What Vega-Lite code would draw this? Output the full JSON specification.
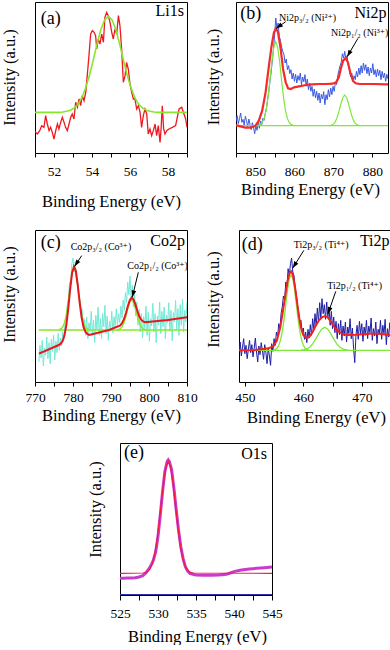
{
"$schema":"https://vega.github.io/schema/vega-lite/v6.json",
"background":"white",
"padding":{"left":0,"top":1,"right":0,"bottom":0},
"config":{
 "view":{"stroke":"black","strokeWidth":1},
 "axis":{"grid":false,"domain":false,"labelFont":"Liberation Serif, DejaVu Serif, serif","labelFontSize":13.5,"labelColor":"black","titleFont":"Liberation Serif, DejaVu Serif, serif","titleFontSize":16.5,"titleFontWeight":"normal","titleColor":"black","tickColor":"black","labelOverlap":false,"labelFlush":false,"minExtent":0},
 "text":{"font":"Liberation Serif, DejaVu Serif, serif","color":"black"}
},
"datasets":{
"A":[
{"s":"d","x":51.00,"y":64},{"s":"d","x":51.12,"y":57},{"s":"d","x":51.25,"y":67},{"s":"d","x":51.35,"y":82},{"s":"d","x":51.47,"y":77},{"s":"d","x":51.56,"y":112},{"s":"d","x":51.65,"y":87},{"s":"d","x":51.74,"y":67},{"s":"d","x":51.82,"y":77},{"s":"d","x":51.91,"y":62},{"s":"d","x":52.00,"y":42},{"s":"d","x":52.09,"y":67},{"s":"d","x":52.18,"y":87},{"s":"d","x":52.26,"y":72},{"s":"d","x":52.35,"y":92},{"s":"d","x":52.44,"y":107},{"s":"d","x":52.53,"y":92},{"s":"d","x":52.61,"y":77},{"s":"d","x":52.70,"y":67},{"s":"d","x":52.79,"y":87},{"s":"d","x":52.88,"y":107},{"s":"d","x":52.96,"y":117},{"s":"d","x":53.05,"y":102},{"s":"d","x":53.14,"y":152},{"s":"d","x":53.23,"y":137},{"s":"d","x":53.32,"y":162},{"s":"d","x":53.40,"y":142},{"s":"d","x":53.49,"y":172},{"s":"d","x":53.58,"y":157},{"s":"d","x":53.67,"y":182},{"s":"d","x":53.75,"y":232},{"s":"d","x":53.84,"y":292},{"s":"d","x":53.93,"y":357},{"s":"d","x":54.02,"y":367},{"s":"d","x":54.11,"y":362},{"s":"d","x":54.19,"y":352},{"s":"d","x":54.25,"y":312},{"s":"d","x":54.33,"y":342},{"s":"d","x":54.42,"y":327},{"s":"d","x":54.51,"y":357},{"s":"d","x":54.60,"y":332},{"s":"d","x":54.68,"y":407},{"s":"d","x":54.77,"y":422},{"s":"d","x":54.86,"y":412},{"s":"d","x":54.95,"y":392},{"s":"d","x":55.04,"y":362},{"s":"d","x":55.12,"y":342},{"s":"d","x":55.21,"y":372},{"s":"d","x":55.30,"y":357},{"s":"d","x":55.39,"y":412},{"s":"d","x":55.47,"y":382},{"s":"d","x":55.56,"y":312},{"s":"d","x":55.65,"y":212},{"s":"d","x":55.74,"y":232},{"s":"d","x":55.82,"y":272},{"s":"d","x":55.91,"y":252},{"s":"d","x":56.00,"y":207},{"s":"d","x":56.09,"y":182},{"s":"d","x":56.18,"y":162},{"s":"d","x":56.26,"y":162},{"s":"d","x":56.35,"y":132},{"s":"d","x":56.44,"y":142},{"s":"d","x":56.53,"y":122},{"s":"d","x":56.61,"y":77},{"s":"d","x":56.70,"y":112},{"s":"d","x":56.79,"y":132},{"s":"d","x":56.88,"y":117},{"s":"d","x":56.96,"y":57},{"s":"d","x":57.05,"y":72},{"s":"d","x":57.14,"y":52},{"s":"d","x":57.23,"y":67},{"s":"d","x":57.32,"y":87},{"s":"d","x":57.40,"y":52},{"s":"d","x":57.49,"y":82},{"s":"d","x":57.58,"y":32},{"s":"d","x":57.63,"y":67},{"s":"d","x":57.70,"y":142},{"s":"d","x":57.77,"y":72},{"s":"d","x":57.84,"y":57},{"s":"d","x":57.93,"y":67},{"s":"d","x":58.05,"y":72},{"s":"d","x":58.23,"y":77},{"s":"d","x":58.40,"y":82},{"s":"d","x":58.58,"y":132},{"s":"d","x":58.72,"y":137},{"s":"d","x":58.84,"y":117},{"s":"d","x":58.93,"y":102},{"s":"d","x":59.00,"y":77},
{"s":"g","x":51.0,"y":122},{"s":"g","x":52.26,"y":122},{"s":"g","x":52.46,"y":123},{"s":"g","x":52.66,"y":125},{"s":"g","x":52.86,"y":128},{"s":"g","x":53.06,"y":135},{"s":"g","x":53.26,"y":146},{"s":"g","x":53.46,"y":165},{"s":"g","x":53.66,"y":194},{"s":"g","x":53.86,"y":232},{"s":"g","x":54.06,"y":277},{"s":"g","x":54.26,"y":326},{"s":"g","x":54.46,"y":369},{"s":"g","x":54.66,"y":399},{"s":"g","x":54.86,"y":410},{"s":"g","x":55.06,"y":399},{"s":"g","x":55.26,"y":369},{"s":"g","x":55.46,"y":326},{"s":"g","x":55.66,"y":277},{"s":"g","x":55.86,"y":232},{"s":"g","x":56.06,"y":194},{"s":"g","x":56.26,"y":165},{"s":"g","x":56.46,"y":146},{"s":"g","x":56.66,"y":135},{"s":"g","x":56.86,"y":128},{"s":"g","x":57.06,"y":125},{"s":"g","x":57.26,"y":123},{"s":"g","x":57.46,"y":122},{"s":"g","x":59.0,"y":122}
],
"B":[
{"s":"d","x":845.0,"y":95},{"s":"d","x":845.3,"y":112},{"s":"d","x":845.6,"y":88},{"s":"d","x":845.9,"y":104},{"s":"d","x":846.2,"y":120},{"s":"d","x":846.5,"y":92},{"s":"d","x":846.8,"y":101},{"s":"d","x":847.1,"y":84},{"s":"d","x":847.4,"y":110},{"s":"d","x":847.7,"y":97},{"s":"d","x":848.0,"y":79},{"s":"d","x":848.3,"y":102},{"s":"d","x":848.6,"y":86},{"s":"d","x":848.9,"y":70},{"s":"d","x":849.2,"y":91},{"s":"d","x":849.5,"y":76},{"s":"d","x":849.8,"y":58},{"s":"d","x":850.1,"y":83},{"s":"d","x":850.4,"y":68},{"s":"d","x":850.7,"y":92},{"s":"d","x":851.0,"y":74},{"s":"d","x":851.3,"y":96},{"s":"d","x":851.6,"y":85},{"s":"d","x":851.9,"y":104},{"s":"d","x":852.2,"y":98},{"s":"d","x":852.5,"y":118},{"s":"d","x":852.8,"y":132},{"s":"d","x":853.1,"y":160},{"s":"d","x":853.4,"y":182},{"s":"d","x":853.7,"y":215},{"s":"d","x":854.0,"y":240},{"s":"d","x":854.3,"y":275},{"s":"d","x":854.6,"y":310},{"s":"d","x":854.9,"y":352},{"s":"d","x":855.2,"y":405},{"s":"d","x":855.5,"y":372},{"s":"d","x":855.8,"y":390},{"s":"d","x":856.1,"y":350},{"s":"d","x":856.4,"y":338},{"s":"d","x":856.7,"y":318},{"s":"d","x":857.0,"y":305},{"s":"d","x":857.3,"y":296},{"s":"d","x":857.6,"y":270},{"s":"d","x":857.9,"y":282},{"s":"d","x":858.2,"y":250},{"s":"d","x":858.5,"y":262},{"s":"d","x":858.8,"y":238},{"s":"d","x":859.1,"y":250},{"s":"d","x":859.4,"y":222},{"s":"d","x":859.7,"y":240},{"s":"d","x":860.0,"y":215},{"s":"d","x":860.3,"y":236},{"s":"d","x":860.6,"y":210},{"s":"d","x":860.9,"y":232},{"s":"d","x":861.2,"y":218},{"s":"d","x":861.5,"y":240},{"s":"d","x":861.8,"y":205},{"s":"d","x":862.1,"y":228},{"s":"d","x":862.4,"y":214},{"s":"d","x":862.7,"y":235},{"s":"d","x":863.0,"y":200},{"s":"d","x":863.3,"y":222},{"s":"d","x":863.6,"y":190},{"s":"d","x":863.9,"y":210},{"s":"d","x":864.2,"y":185},{"s":"d","x":864.5,"y":200},{"s":"d","x":864.8,"y":170},{"s":"d","x":865.1,"y":192},{"s":"d","x":865.4,"y":165},{"s":"d","x":865.7,"y":185},{"s":"d","x":866.0,"y":158},{"s":"d","x":866.3,"y":180},{"s":"d","x":866.6,"y":150},{"s":"d","x":866.9,"y":176},{"s":"d","x":867.2,"y":162},{"s":"d","x":867.5,"y":184},{"s":"d","x":867.8,"y":145},{"s":"d","x":868.1,"y":175},{"s":"d","x":868.4,"y":160},{"s":"d","x":868.7,"y":190},{"s":"d","x":869.0,"y":168},{"s":"d","x":869.3,"y":195},{"s":"d","x":869.6,"y":175},{"s":"d","x":869.9,"y":200},{"s":"d","x":870.2,"y":185},{"s":"d","x":870.5,"y":212},{"s":"d","x":870.8,"y":205},{"s":"d","x":871.1,"y":232},{"s":"d","x":871.4,"y":248},{"s":"d","x":871.7,"y":262},{"s":"d","x":872.0,"y":272},{"s":"d","x":872.3,"y":298},{"s":"d","x":872.6,"y":285},{"s":"d","x":872.9,"y":305},{"s":"d","x":873.2,"y":280},{"s":"d","x":873.5,"y":292},{"s":"d","x":873.8,"y":262},{"s":"d","x":874.1,"y":250},{"s":"d","x":874.4,"y":228},{"s":"d","x":874.7,"y":240},{"s":"d","x":875.0,"y":215},{"s":"d","x":875.3,"y":232},{"s":"d","x":875.6,"y":220},{"s":"d","x":875.9,"y":245},{"s":"d","x":876.2,"y":228},{"s":"d","x":876.5,"y":255},{"s":"d","x":876.8,"y":235},{"s":"d","x":877.1,"y":262},{"s":"d","x":877.4,"y":240},{"s":"d","x":877.7,"y":270},{"s":"d","x":878.0,"y":248},{"s":"d","x":878.3,"y":265},{"s":"d","x":878.6,"y":238},{"s":"d","x":878.9,"y":258},{"s":"d","x":879.2,"y":232},{"s":"d","x":879.5,"y":255},{"s":"d","x":879.8,"y":240},{"s":"d","x":880.1,"y":268},{"s":"d","x":880.4,"y":235},{"s":"d","x":880.7,"y":250},{"s":"d","x":881.0,"y":228},{"s":"d","x":881.3,"y":252},{"s":"d","x":881.6,"y":232},{"s":"d","x":881.9,"y":248},{"s":"d","x":882.2,"y":220},{"s":"d","x":882.5,"y":245},{"s":"d","x":882.8,"y":226},{"s":"d","x":883.1,"y":240},{"s":"d","x":883.4,"y":215},{"s":"d","x":883.7,"y":236},{"s":"d","x":884.0,"y":222},
{"s":"r","x":845.0,"y":84},{"s":"r","x":846.12,"y":80},{"s":"r","x":847.41,"y":76},{"s":"r","x":848.71,"y":76},{"s":"r","x":850.0,"y":82},{"s":"r","x":850.86,"y":97},{"s":"r","x":851.72,"y":127},{"s":"r","x":852.59,"y":182},{"s":"r","x":853.45,"y":262},{"s":"r","x":854.14,"y":322},{"s":"r","x":854.74,"y":362},{"s":"r","x":855.26,"y":374},{"s":"r","x":855.78,"y":362},{"s":"r","x":856.47,"y":312},{"s":"r","x":857.07,"y":252},{"s":"r","x":857.76,"y":212},{"s":"r","x":858.36,"y":194},{"s":"r","x":859.05,"y":192},{"s":"r","x":859.91,"y":197},{"s":"r","x":861.21,"y":200},{"s":"r","x":862.93,"y":204},{"s":"r","x":864.66,"y":206},{"s":"r","x":866.38,"y":207},{"s":"r","x":868.10,"y":207},{"s":"r","x":869.83,"y":208},{"s":"r","x":870.69,"y":212},{"s":"r","x":871.38,"y":227},{"s":"r","x":871.98,"y":257},{"s":"r","x":872.50,"y":277},{"s":"r","x":873.10,"y":285},{"s":"r","x":873.71,"y":272},{"s":"r","x":874.31,"y":242},{"s":"r","x":875.0,"y":217},{"s":"r","x":875.69,"y":209},{"s":"r","x":876.72,"y":207},{"s":"r","x":880.17,"y":207},{"s":"r","x":884.0,"y":206},
{"s":"g0","x":845.0,"y":82},{"s":"g0","x":884.0,"y":82},
{"s":"g1","x":850.2,"y":82},{"s":"g1","x":850.7,"y":83},{"s":"g1","x":851.2,"y":85},{"s":"g1","x":851.7,"y":91},{"s":"g1","x":852.2,"y":103},{"s":"g1","x":852.7,"y":127},{"s":"g1","x":853.2,"y":166},{"s":"g1","x":853.7,"y":218},{"s":"g1","x":854.2,"y":274},{"s":"g1","x":854.7,"y":317},{"s":"g1","x":855.2,"y":334},{"s":"g1","x":855.7,"y":317},{"s":"g1","x":856.2,"y":274},{"s":"g1","x":856.7,"y":218},{"s":"g1","x":857.2,"y":166},{"s":"g1","x":857.7,"y":127},{"s":"g1","x":858.2,"y":103},{"s":"g1","x":858.7,"y":91},{"s":"g1","x":859.2,"y":85},{"s":"g1","x":859.7,"y":83},{"s":"g1","x":860.2,"y":82},
{"s":"g2","x":868.9,"y":82},{"s":"g2","x":869.4,"y":83},{"s":"g2","x":869.9,"y":86},{"s":"g2","x":870.4,"y":92},{"s":"g2","x":870.9,"y":105},{"s":"g2","x":871.4,"y":124},{"s":"g2","x":871.9,"y":147},{"s":"g2","x":872.4,"y":166},{"s":"g2","x":872.9,"y":174},{"s":"g2","x":873.4,"y":166},{"s":"g2","x":873.9,"y":147},{"s":"g2","x":874.4,"y":124},{"s":"g2","x":874.9,"y":105},{"s":"g2","x":875.4,"y":92},{"s":"g2","x":875.9,"y":86},{"s":"g2","x":876.4,"y":83},{"s":"g2","x":876.9,"y":82}
],
"C":[
{"s":"d","x":771.0,"y":60},{"s":"d","x":771.3,"y":110},{"s":"d","x":771.6,"y":72},{"s":"d","x":771.9,"y":125},{"s":"d","x":772.2,"y":48},{"s":"d","x":772.5,"y":102},{"s":"d","x":772.8,"y":80},{"s":"d","x":773.1,"y":135},{"s":"d","x":773.4,"y":70},{"s":"d","x":773.7,"y":118},{"s":"d","x":774.0,"y":55},{"s":"d","x":774.3,"y":128},{"s":"d","x":774.6,"y":92},{"s":"d","x":774.9,"y":140},{"s":"d","x":775.2,"y":66},{"s":"d","x":775.5,"y":122},{"s":"d","x":775.8,"y":88},{"s":"d","x":776.1,"y":146},{"s":"d","x":776.4,"y":95},{"s":"d","x":776.7,"y":132},{"s":"d","x":777.0,"y":108},{"s":"d","x":777.3,"y":150},{"s":"d","x":777.6,"y":128},{"s":"d","x":777.9,"y":175},{"s":"d","x":778.2,"y":165},{"s":"d","x":778.5,"y":232},{"s":"d","x":778.8,"y":248},{"s":"d","x":779.1,"y":300},{"s":"d","x":779.4,"y":290},{"s":"d","x":779.7,"y":355},{"s":"d","x":780.0,"y":372},{"s":"d","x":780.3,"y":330},{"s":"d","x":780.6,"y":362},{"s":"d","x":780.9,"y":300},{"s":"d","x":781.2,"y":310},{"s":"d","x":781.5,"y":258},{"s":"d","x":781.8,"y":248},{"s":"d","x":782.1,"y":215},{"s":"d","x":782.4,"y":220},{"s":"d","x":782.7,"y":168},{"s":"d","x":783.0,"y":188},{"s":"d","x":783.3,"y":140},{"s":"d","x":783.6,"y":195},{"s":"d","x":783.9,"y":130},{"s":"d","x":784.2,"y":178},{"s":"d","x":784.5,"y":152},{"s":"d","x":784.8,"y":212},{"s":"d","x":785.1,"y":140},{"s":"d","x":785.4,"y":186},{"s":"d","x":785.7,"y":118},{"s":"d","x":786.0,"y":200},{"s":"d","x":786.3,"y":158},{"s":"d","x":786.6,"y":225},{"s":"d","x":786.9,"y":140},{"s":"d","x":787.2,"y":190},{"s":"d","x":787.5,"y":130},{"s":"d","x":787.8,"y":205},{"s":"d","x":788.1,"y":165},{"s":"d","x":788.4,"y":230},{"s":"d","x":788.7,"y":145},{"s":"d","x":789.0,"y":198},{"s":"d","x":789.3,"y":125},{"s":"d","x":789.6,"y":182},{"s":"d","x":789.9,"y":160},{"s":"d","x":790.2,"y":212},{"s":"d","x":790.5,"y":148},{"s":"d","x":790.8,"y":196},{"s":"d","x":791.1,"y":165},{"s":"d","x":791.4,"y":220},{"s":"d","x":791.7,"y":172},{"s":"d","x":792.0,"y":205},{"s":"d","x":792.3,"y":178},{"s":"d","x":792.6,"y":228},{"s":"d","x":792.9,"y":192},{"s":"d","x":793.2,"y":246},{"s":"d","x":793.5,"y":215},{"s":"d","x":793.8,"y":268},{"s":"d","x":794.1,"y":238},{"s":"d","x":794.4,"y":300},{"s":"d","x":794.7,"y":262},{"s":"d","x":795.0,"y":318},{"s":"d","x":795.3,"y":250},{"s":"d","x":795.6,"y":290},{"s":"d","x":795.9,"y":225},{"s":"d","x":796.2,"y":262},{"s":"d","x":796.5,"y":198},{"s":"d","x":796.8,"y":240},{"s":"d","x":797.1,"y":170},{"s":"d","x":797.4,"y":218},{"s":"d","x":797.7,"y":150},{"s":"d","x":798.0,"y":205},{"s":"d","x":798.3,"y":132},{"s":"d","x":798.6,"y":196},{"s":"d","x":798.9,"y":160},{"s":"d","x":799.2,"y":228},{"s":"d","x":799.5,"y":140},{"s":"d","x":799.8,"y":210},{"s":"d","x":800.1,"y":122},{"s":"d","x":800.4,"y":190},{"s":"d","x":800.7,"y":168},{"s":"d","x":801.0,"y":236},{"s":"d","x":801.3,"y":150},{"s":"d","x":801.6,"y":205},{"s":"d","x":801.9,"y":118},{"s":"d","x":802.2,"y":198},{"s":"d","x":802.5,"y":172},{"s":"d","x":802.8,"y":240},{"s":"d","x":803.1,"y":145},{"s":"d","x":803.4,"y":212},{"s":"d","x":803.7,"y":166},{"s":"d","x":804.0,"y":225},{"s":"d","x":804.3,"y":130},{"s":"d","x":804.6,"y":200},{"s":"d","x":804.9,"y":178},{"s":"d","x":805.2,"y":238},{"s":"d","x":805.5,"y":152},{"s":"d","x":805.8,"y":215},{"s":"d","x":806.1,"y":124},{"s":"d","x":806.4,"y":208},{"s":"d","x":806.7,"y":180},{"s":"d","x":807.0,"y":245},{"s":"d","x":807.3,"y":158},{"s":"d","x":807.6,"y":220},{"s":"d","x":807.9,"y":140},{"s":"d","x":808.2,"y":232},{"s":"d","x":808.5,"y":170},{"s":"d","x":808.8,"y":248},{"s":"d","x":809.1,"y":150},{"s":"d","x":809.4,"y":215},{"s":"d","x":809.7,"y":180},{"s":"d","x":810.0,"y":240},
{"s":"r","x":771.05,"y":85},{"s":"r","x":776.26,"y":111},{"s":"r","x":776.76,"y":115},{"s":"r","x":777.26,"y":123},{"s":"r","x":777.76,"y":140},{"s":"r","x":778.26,"y":172},{"s":"r","x":778.76,"y":221},{"s":"r","x":779.26,"y":279},{"s":"r","x":779.76,"y":328},{"s":"r","x":780.26,"y":346},{"s":"r","x":780.76,"y":333},{"s":"r","x":781.26,"y":290},{"s":"r","x":781.76,"y":238},{"s":"r","x":782.26,"y":194},{"s":"r","x":782.76,"y":165},{"s":"r","x":783.26,"y":151},{"s":"r","x":783.76,"y":144},{"s":"r","x":784.26,"y":141},{"s":"r","x":789.5,"y":156},{"s":"r","x":792.44,"y":170},{"s":"r","x":792.94,"y":177},{"s":"r","x":793.44,"y":189},{"s":"r","x":793.94,"y":207},{"s":"r","x":794.44,"y":228},{"s":"r","x":794.94,"y":245},{"s":"r","x":795.44,"y":253},{"s":"r","x":795.94,"y":247},{"s":"r","x":796.44,"y":232},{"s":"r","x":796.94,"y":213},{"s":"r","x":797.44,"y":197},{"s":"r","x":797.94,"y":187},{"s":"r","x":798.44,"y":182},{"s":"r","x":799.0,"y":179},{"s":"r","x":805.0,"y":186},{"s":"r","x":810.0,"y":194},
{"s":"g0","x":771.0,"y":156},{"s":"g0","x":810.0,"y":156},
{"s":"g1","x":776.26,"y":157},{"s":"g1","x":776.76,"y":159},{"s":"g1","x":777.26,"y":164},{"s":"g1","x":777.76,"y":177},{"s":"g1","x":778.26,"y":202},{"s":"g1","x":778.76,"y":241},{"s":"g1","x":779.26,"y":288},{"s":"g1","x":779.76,"y":327},{"s":"g1","x":780.26,"y":342},{"s":"g1","x":780.76,"y":327},{"s":"g1","x":781.26,"y":288},{"s":"g1","x":781.76,"y":241},{"s":"g1","x":782.26,"y":202},{"s":"g1","x":782.76,"y":177},{"s":"g1","x":783.26,"y":164},{"s":"g1","x":783.76,"y":159},{"s":"g1","x":784.26,"y":157},
{"s":"g2","x":791.44,"y":156},{"s":"g2","x":791.94,"y":157},{"s":"g2","x":792.44,"y":160},{"s":"g2","x":792.94,"y":166},{"s":"g2","x":793.44,"y":179},{"s":"g2","x":793.94,"y":198},{"s":"g2","x":794.44,"y":221},{"s":"g2","x":794.94,"y":240},{"s":"g2","x":795.44,"y":248},{"s":"g2","x":795.94,"y":240},{"s":"g2","x":796.44,"y":221},{"s":"g2","x":796.94,"y":198},{"s":"g2","x":797.44,"y":179},{"s":"g2","x":797.94,"y":166},{"s":"g2","x":798.44,"y":160},{"s":"g2","x":798.94,"y":157},{"s":"g2","x":799.44,"y":156}
],
"D":[
{"s":"d","x":449.0,"y":92},{"s":"d","x":449.2,"y":120},{"s":"d","x":449.4,"y":78},{"s":"d","x":449.6,"y":105},{"s":"d","x":449.8,"y":130},{"s":"d","x":450.0,"y":85},{"s":"d","x":450.2,"y":110},{"s":"d","x":450.4,"y":70},{"s":"d","x":450.6,"y":98},{"s":"d","x":450.8,"y":125},{"s":"d","x":451.0,"y":88},{"s":"d","x":451.2,"y":112},{"s":"d","x":451.4,"y":75},{"s":"d","x":451.6,"y":102},{"s":"d","x":451.8,"y":132},{"s":"d","x":452.0,"y":90},{"s":"d","x":452.2,"y":60},{"s":"d","x":452.4,"y":108},{"s":"d","x":452.6,"y":82},{"s":"d","x":452.8,"y":118},{"s":"d","x":453.0,"y":95},{"s":"d","x":453.2,"y":68},{"s":"d","x":453.4,"y":112},{"s":"d","x":453.6,"y":88},{"s":"d","x":453.8,"y":55},{"s":"d","x":454.0,"y":102},{"s":"d","x":454.2,"y":78},{"s":"d","x":454.4,"y":50},{"s":"d","x":454.6,"y":115},{"s":"d","x":454.8,"y":92},{"s":"d","x":455.0,"y":130},{"s":"d","x":455.2,"y":110},{"s":"d","x":455.4,"y":150},{"s":"d","x":455.6,"y":135},{"s":"d","x":455.8,"y":175},{"s":"d","x":456.0,"y":160},{"s":"d","x":456.2,"y":205},{"s":"d","x":456.4,"y":225},{"s":"d","x":456.6,"y":258},{"s":"d","x":456.8,"y":245},{"s":"d","x":457.0,"y":300},{"s":"d","x":457.2,"y":285},{"s":"d","x":457.4,"y":340},{"s":"d","x":457.6,"y":318},{"s":"d","x":457.8,"y":355},{"s":"d","x":458.0,"y":372},{"s":"d","x":458.2,"y":330},{"s":"d","x":458.4,"y":320},{"s":"d","x":458.6,"y":285},{"s":"d","x":458.8,"y":262},{"s":"d","x":459.0,"y":230},{"s":"d","x":459.2,"y":210},{"s":"d","x":459.4,"y":178},{"s":"d","x":459.6,"y":185},{"s":"d","x":459.8,"y":150},{"s":"d","x":460.0,"y":162},{"s":"d","x":460.2,"y":128},{"s":"d","x":460.4,"y":150},{"s":"d","x":460.6,"y":118},{"s":"d","x":460.8,"y":158},{"s":"d","x":461.0,"y":132},{"s":"d","x":461.2,"y":172},{"s":"d","x":461.4,"y":140},{"s":"d","x":461.6,"y":190},{"s":"d","x":461.8,"y":158},{"s":"d","x":462.0,"y":205},{"s":"d","x":462.2,"y":168},{"s":"d","x":462.4,"y":222},{"s":"d","x":462.6,"y":180},{"s":"d","x":462.8,"y":238},{"s":"d","x":463.0,"y":192},{"s":"d","x":463.2,"y":250},{"s":"d","x":463.4,"y":205},{"s":"d","x":463.6,"y":232},{"s":"d","x":463.8,"y":188},{"s":"d","x":464.0,"y":240},{"s":"d","x":464.2,"y":195},{"s":"d","x":464.4,"y":225},{"s":"d","x":464.6,"y":170},{"s":"d","x":464.8,"y":212},{"s":"d","x":465.0,"y":160},{"s":"d","x":465.2,"y":195},{"s":"d","x":465.4,"y":148},{"s":"d","x":465.6,"y":182},{"s":"d","x":465.8,"y":130},{"s":"d","x":466.0,"y":175},{"s":"d","x":466.2,"y":142},{"s":"d","x":466.4,"y":185},{"s":"d","x":466.6,"y":125},{"s":"d","x":466.8,"y":168},{"s":"d","x":467.0,"y":138},{"s":"d","x":467.2,"y":180},{"s":"d","x":467.4,"y":120},{"s":"d","x":467.6,"y":165},{"s":"d","x":467.8,"y":145},{"s":"d","x":468.0,"y":190},{"s":"d","x":468.2,"y":130},{"s":"d","x":468.4,"y":162},{"s":"d","x":468.6,"y":100},{"s":"d","x":468.8,"y":58},{"s":"d","x":469.0,"y":140},{"s":"d","x":469.2,"y":170},{"s":"d","x":469.4,"y":128},{"s":"d","x":469.6,"y":182},{"s":"d","x":469.8,"y":145},{"s":"d","x":470.0,"y":175},{"s":"d","x":470.2,"y":122},{"s":"d","x":470.4,"y":165},{"s":"d","x":470.6,"y":140},{"s":"d","x":470.8,"y":185},{"s":"d","x":471.0,"y":130},{"s":"d","x":471.2,"y":168},{"s":"d","x":471.4,"y":148},{"s":"d","x":471.6,"y":192},{"s":"d","x":471.8,"y":125},{"s":"d","x":472.0,"y":160},{"s":"d","x":472.2,"y":138},{"s":"d","x":472.4,"y":180},{"s":"d","x":472.6,"y":115},{"s":"d","x":472.8,"y":158},{"s":"d","x":473.0,"y":142},{"s":"d","x":473.2,"y":185},{"s":"d","x":473.4,"y":128},{"s":"d","x":473.6,"y":170},{"s":"d","x":473.8,"y":145},{"s":"d","x":474.0,"y":188},{"s":"d","x":474.2,"y":112},{"s":"d","x":474.4,"y":160},{"s":"d","x":474.6,"y":135},{"s":"d","x":474.8,"y":178},{"s":"d","x":475.0,"y":150},
{"s":"r","x":449.0,"y":95},{"s":"r","x":451.76,"y":96},{"s":"r","x":454.06,"y":101},{"s":"r","x":454.92,"y":108},{"s":"r","x":455.49,"y":125},{"s":"r","x":456.07,"y":165},{"s":"r","x":456.53,"y":215},{"s":"r","x":456.93,"y":260},{"s":"r","x":457.28,"y":300},{"s":"r","x":457.62,"y":325},{"s":"r","x":457.91,"y":332},{"s":"r","x":458.20,"y":322},{"s":"r","x":458.54,"y":290},{"s":"r","x":458.89,"y":245},{"s":"r","x":459.23,"y":200},{"s":"r","x":459.57,"y":165},{"s":"r","x":459.97,"y":142},{"s":"r","x":460.44,"y":132},{"s":"r","x":460.95,"y":134},{"s":"r","x":461.53,"y":148},{"s":"r","x":462.10,"y":168},{"s":"r","x":462.68,"y":185},{"s":"r","x":463.25,"y":195},{"s":"r","x":463.71,"y":198},{"s":"r","x":464.17,"y":194},{"s":"r","x":464.69,"y":182},{"s":"r","x":465.26,"y":166},{"s":"r","x":465.84,"y":154},{"s":"r","x":466.59,"y":145},{"s":"r","x":467.56,"y":141},{"s":"r","x":469.0,"y":142},{"s":"r","x":471.3,"y":145},{"s":"r","x":473.02,"y":145},{"s":"r","x":475.0,"y":140},
{"s":"g0","x":449.0,"y":95},{"s":"g0","x":475.0,"y":95},
{"s":"g1","x":454.91,"y":96},{"s":"g1","x":455.21,"y":98},{"s":"g1","x":455.51,"y":101},{"s":"g1","x":455.81,"y":110},{"s":"g1","x":456.11,"y":126},{"s":"g1","x":456.41,"y":152},{"s":"g1","x":456.71,"y":188},{"s":"g1","x":457.01,"y":233},{"s":"g1","x":457.31,"y":277},{"s":"g1","x":457.61,"y":310},{"s":"g1","x":457.91,"y":322},{"s":"g1","x":458.21,"y":310},{"s":"g1","x":458.51,"y":277},{"s":"g1","x":458.81,"y":233},{"s":"g1","x":459.11,"y":188},{"s":"g1","x":459.41,"y":152},{"s":"g1","x":459.71,"y":126},{"s":"g1","x":460.01,"y":110},{"s":"g1","x":460.31,"y":101},{"s":"g1","x":460.61,"y":98},{"s":"g1","x":460.91,"y":96},
{"s":"g2","x":459.66,"y":96},{"s":"g2","x":460.16,"y":97},{"s":"g2","x":460.66,"y":100},{"s":"g2","x":461.16,"y":106},{"s":"g2","x":461.66,"y":116},{"s":"g2","x":462.16,"y":130},{"s":"g2","x":462.66,"y":146},{"s":"g2","x":463.16,"y":159},{"s":"g2","x":463.66,"y":164},{"s":"g2","x":464.16,"y":159},{"s":"g2","x":464.66,"y":146},{"s":"g2","x":465.16,"y":130},{"s":"g2","x":465.66,"y":116},{"s":"g2","x":466.16,"y":106},{"s":"g2","x":466.66,"y":100},{"s":"g2","x":467.16,"y":97},{"s":"g2","x":467.66,"y":96}
],
"E":[
{"s":"d","x":525.0,"y":50},{"s":"d","x":525.5,"y":50},{"s":"d","x":526.0,"y":51},{"s":"d","x":526.5,"y":51},{"s":"d","x":527.0,"y":52},{"s":"d","x":527.5,"y":54},{"s":"d","x":528.0,"y":58},{"s":"d","x":528.4,"y":66},{"s":"d","x":528.8,"y":78},{"s":"d","x":529.1,"y":90},{"s":"d","x":529.4,"y":105},{"s":"d","x":529.7,"y":130},{"s":"d","x":530.0,"y":175},{"s":"d","x":530.3,"y":240},{"s":"d","x":530.6,"y":310},{"s":"d","x":530.9,"y":370},{"s":"d","x":531.2,"y":400},{"s":"d","x":531.35,"y":405},{"s":"d","x":531.5,"y":400},{"s":"d","x":531.8,"y":375},{"s":"d","x":532.1,"y":320},{"s":"d","x":532.4,"y":255},{"s":"d","x":532.7,"y":195},{"s":"d","x":533.0,"y":145},{"s":"d","x":533.3,"y":110},{"s":"d","x":533.6,"y":85},{"s":"d","x":533.9,"y":72},{"s":"d","x":534.2,"y":65},{"s":"d","x":534.6,"y":62},{"s":"d","x":535.0,"y":60},{"s":"d","x":536.0,"y":59},{"s":"d","x":537.0,"y":59},{"s":"d","x":538.0,"y":60},{"s":"d","x":539.0,"y":62},{"s":"d","x":539.5,"y":66},{"s":"d","x":540.0,"y":70},{"s":"d","x":540.5,"y":73},{"s":"d","x":541.0,"y":75},{"s":"d","x":542.0,"y":78},{"s":"d","x":543.0,"y":80},{"s":"d","x":544.0,"y":82},{"s":"d","x":545.0,"y":84},
{"s":"r","x":525.0,"y":65},{"s":"r","x":528.05,"y":66},{"s":"r","x":528.35,"y":67},{"s":"r","x":528.65,"y":71},{"s":"r","x":528.95,"y":79},{"s":"r","x":529.25,"y":94},{"s":"r","x":529.55,"y":121},{"s":"r","x":529.85,"y":162},{"s":"r","x":530.15,"y":217},{"s":"r","x":530.45,"y":280},{"s":"r","x":530.75,"y":341},{"s":"r","x":531.05,"y":385},{"s":"r","x":531.35,"y":402},{"s":"r","x":531.65,"y":385},{"s":"r","x":531.95,"y":341},{"s":"r","x":532.25,"y":280},{"s":"r","x":532.55,"y":217},{"s":"r","x":532.85,"y":162},{"s":"r","x":533.15,"y":121},{"s":"r","x":533.45,"y":94},{"s":"r","x":533.75,"y":79},{"s":"r","x":534.05,"y":71},{"s":"r","x":534.35,"y":67},{"s":"r","x":534.65,"y":66},{"s":"r","x":545.0,"y":65},
{"s":"b","x":525.0,"y":1},{"s":"b","x":545.0,"y":1}
],
"T":[
{"p":"a","k":"L","t":"(a)","x":51.3,"y":402},{"p":"a","k":"N","t":"Li1s","x":58.84,"y":427},
{"p":"b","k":"L","t":"(b)","x":846.12,"y":417},{"p":"b","k":"N","t":"Ni2p","x":883.62,"y":419},{"p":"b","k":"A","t":"Ni2p₃/₂ (Ni²⁺)","x":856.03,"y":405},{"p":"b","k":"A","t":"Ni2p₁/₂ (Ni³⁺)","x":869.4,"y":359},
{"p":"c","k":"L","t":"(c)","x":771.49,"y":417},{"p":"c","k":"N","t":"Co2p","x":809.47,"y":422},{"p":"c","k":"A","t":"Co2p₃/₂ (Co³⁺)","x":779.39,"y":405},{"p":"c","k":"A","t":"Co2p₁/₂ (Co³⁺)","x":794.3,"y":349},
{"p":"d","k":"L","t":"(d)","x":449.46,"y":412},{"p":"d","k":"N","t":"Ti2p","x":474.75,"y":422},{"p":"d","k":"A","t":"Ti2p₃/₂ (Ti⁴⁺)","x":458.37,"y":412},{"p":"d","k":"A","t":"Ti2p₁/₂ (Ti⁴⁺)","x":464.11,"y":289},
{"p":"e","k":"L","t":"(e)","x":525.53,"y":427},{"p":"e","k":"N","t":"O1s","x":544.34,"y":422}
],
"R":[
{"k":"b1","x":855.34,"y":374,"x2":857.76,"y2":394},{"k":"b2","x":873.53,"y":289,"x2":876.29,"y2":344},
{"k":"c1","x":780.44,"y":347,"x2":782.28,"y2":379},{"k":"c2","x":795.61,"y":255,"x2":797.19,"y2":329},
{"k":"d1","x":458.2,"y":342,"x2":460.09,"y2":395},{"k":"d2","x":464.23,"y":205,"x2":465.55,"y2":272}
]
},
"vconcat":[
{"vconcat":[
{"hconcat":[
{"width":152,"height":151,"data":{"name":"A"},
"encoding":{
"x":{"field":"x","type":"quantitative","scale":{"domain":[51,59],"nice":false,"zero":false},"axis":{"title":"Binding Energy (eV)","values":[51,52,53,54,55,56,57,58,59],"labelExpr":"datum.value % 2 == 0 ? datum.label : ''","tickSize":4,"labelPadding":7.8,"titleX":76,"titleY":53,"titleBaseline":"alphabetic","titleAlign":"center"}},
"y":{"field":"y","type":"quantitative","scale":{"domain":[0,453],"nice":false,"zero":false},"axis":{"title":"Intensity (a.u.)","labels":false,"ticks":false,"titleX":-21,"titleY":75,"titleAngle":270,"titleBaseline":"alphabetic","titleAlign":"center"}}},
"layer":[
{"transform":[{"filter":"datum.s=='d'"}],"mark":{"type":"line","color":"#f01820","strokeWidth":1.3,"clip":true}},
{"transform":[{"filter":"datum.s=='g'"}],"mark":{"type":"line","color":"#86e62c","strokeWidth":1.6,"clip":true}},
{"data":{"name":"T"},"transform":[{"filter":"datum.p=='a' && datum.k=='L'"}],"mark":{"type":"text","align":"left","baseline":"middle","fontSize":18},"encoding":{"text":{"field":"t"}}},
{"data":{"name":"T"},"transform":[{"filter":"datum.p=='a' && datum.k=='N'"}],"mark":{"type":"text","align":"right","baseline":"middle","fontSize":16},"encoding":{"text":{"field":"t"}}}
]},
{"width":152,"height":151,"data":{"name":"B"},
"encoding":{
"x":{"field":"x","type":"quantitative","scale":{"domain":[845,884],"nice":false,"zero":false},"axis":{"title":"Binding Energy (eV)","values":[845,850,855,860,865,870,875,880],"labelExpr":"datum.value % 10 == 0 ? datum.label : ''","tickSize":4,"labelPadding":7.8,"titleX":74,"titleY":41,"titleBaseline":"alphabetic","titleAlign":"center"}},
"y":{"field":"y","type":"quantitative","scale":{"domain":[0,453],"nice":false,"zero":false},"axis":{"title":"Intensity (a.u.)","labels":false,"ticks":false,"titleX":-17.7,"titleY":74.5,"titleAngle":270,"titleBaseline":"alphabetic","titleAlign":"center"}}},
"layer":[
{"transform":[{"filter":"datum.s=='d'"}],"mark":{"type":"line","color":"#3a5ae0","strokeWidth":1,"clip":true}},
{"transform":[{"filter":"datum.s!='d' && datum.s!='r'"}],"mark":{"type":"line","color":"#7ee83a","strokeWidth":1.2,"clip":true},"encoding":{"detail":{"field":"s"}}},
{"transform":[{"filter":"datum.s=='r'"}],"mark":{"type":"line","color":"#f52a2a","strokeWidth":2.2,"clip":true}},
{"data":{"name":"R"},"transform":[{"filter":"datum.k[0]=='b'"}],"mark":{"type":"rule","color":"black","strokeWidth":1},"encoding":{"x2":{"field":"x2"},"y2":{"field":"y2"}}},
{"data":{"name":"R"},"transform":[{"filter":"datum.k=='b1'"}],"mark":{"type":"point","shape":"M0,0L-0.5,1.4L0.5,1.4Z","filled":true,"color":"black","opacity":1,"size":90,"angle":234.5}},
{"data":{"name":"R"},"transform":[{"filter":"datum.k=='b2'"}],"mark":{"type":"point","shape":"M0,0L-0.5,1.4L0.5,1.4Z","filled":true,"color":"black","opacity":1,"size":90,"angle":210}},
{"data":{"name":"T"},"transform":[{"filter":"datum.p=='b' && datum.k=='L'"}],"mark":{"type":"text","align":"left","baseline":"middle","fontSize":18},"encoding":{"text":{"field":"t"}}},
{"data":{"name":"T"},"transform":[{"filter":"datum.p=='b' && datum.k=='N'"}],"mark":{"type":"text","align":"right","baseline":"middle","fontSize":16},"encoding":{"text":{"field":"t"}}},
{"data":{"name":"T"},"transform":[{"filter":"datum.p=='b' && datum.k=='A'"}],"mark":{"type":"text","align":"left","baseline":"middle","fontSize":10},"encoding":{"text":{"field":"t"}}}
]}
],"spacing":16},
{"hconcat":[
{"width":152,"height":152,"data":{"name":"C"},
"encoding":{
"x":{"field":"x","type":"quantitative","scale":{"domain":[770,810],"nice":false,"zero":false},"axis":{"title":"Binding Energy (eV)","values":[770,775,780,785,790,795,800,805,810],"labelExpr":"datum.value % 10 == 0 ? datum.label : ''","tickSize":4,"labelPadding":4.5,"titleX":76,"titleY":38,"titleBaseline":"alphabetic","titleAlign":"center"}},
"y":{"field":"y","type":"quantitative","scale":{"domain":[0,456],"nice":false,"zero":false},"axis":{"title":"Intensity (a.u.)","labels":false,"ticks":false,"titleX":-21,"titleY":64,"titleAngle":270,"titleBaseline":"alphabetic","titleAlign":"center"}}},
"layer":[
{"transform":[{"filter":"datum.s=='d'"}],"mark":{"type":"line","color":"#72ead6","strokeWidth":1,"clip":true}},
{"transform":[{"filter":"datum.s!='d' && datum.s!='r'"}],"mark":{"type":"line","color":"#8ae82a","strokeWidth":1.5,"clip":true},"encoding":{"detail":{"field":"s"}}},
{"transform":[{"filter":"datum.s=='r'"}],"mark":{"type":"line","color":"#e8161e","strokeWidth":2,"clip":true}},
{"data":{"name":"R"},"transform":[{"filter":"datum.k[0]=='c'"}],"mark":{"type":"rule","color":"black","strokeWidth":1},"encoding":{"x2":{"field":"x2"},"y2":{"field":"y2"}}},
{"data":{"name":"R"},"transform":[{"filter":"datum.k=='c1'"}],"mark":{"type":"point","shape":"M0,0L-0.5,1.4L0.5,1.4Z","filled":true,"color":"black","opacity":1,"size":90,"angle":213}},
{"data":{"name":"R"},"transform":[{"filter":"datum.k=='c2'"}],"mark":{"type":"point","shape":"M0,0L-0.5,1.4L0.5,1.4Z","filled":true,"color":"black","opacity":1,"size":90,"angle":194}},
{"data":{"name":"T"},"transform":[{"filter":"datum.p=='c' && datum.k=='L'"}],"mark":{"type":"text","align":"left","baseline":"middle","fontSize":18},"encoding":{"text":{"field":"t"}}},
{"data":{"name":"T"},"transform":[{"filter":"datum.p=='c' && datum.k=='N'"}],"mark":{"type":"text","align":"right","baseline":"middle","fontSize":16},"encoding":{"text":{"field":"t"}}},
{"data":{"name":"T"},"transform":[{"filter":"datum.p=='c' && datum.k=='A'"}],"mark":{"type":"text","align":"left","baseline":"middle","fontSize":10},"encoding":{"text":{"field":"t"}}}
]},
{"width":152,"height":152,"data":{"name":"D"},
"encoding":{
"x":{"field":"x","type":"quantitative","scale":{"domain":[449,475],"nice":false,"zero":false},"axis":{"title":"Binding Energy (eV)","values":[450,455,460,465,470,475],"labelExpr":"datum.value % 10 == 0 ? datum.label : ''","tickSize":4,"labelPadding":4.5,"titleX":77,"titleY":40,"titleBaseline":"alphabetic","titleAlign":"center"}},
"y":{"field":"y","type":"quantitative","scale":{"domain":[0,456],"nice":false,"zero":false},"axis":{"title":"Intensity (a.u.)","labels":false,"ticks":false,"titleX":-21,"titleY":69,"titleAngle":270,"titleBaseline":"alphabetic","titleAlign":"center"}}},
"layer":[
{"transform":[{"filter":"datum.s=='d'"}],"mark":{"type":"line","color":"#1e1ea6","strokeWidth":1,"clip":true}},
{"transform":[{"filter":"datum.s!='d' && datum.s!='r'"}],"mark":{"type":"line","color":"#7ee83a","strokeWidth":1.3,"clip":true},"encoding":{"detail":{"field":"s"}}},
{"transform":[{"filter":"datum.s=='r'"}],"mark":{"type":"line","color":"#f52020","strokeWidth":2,"clip":true}},
{"data":{"name":"R"},"transform":[{"filter":"datum.k[0]=='d'"}],"mark":{"type":"rule","color":"black","strokeWidth":1},"encoding":{"x2":{"field":"x2"},"y2":{"field":"y2"}}},
{"data":{"name":"R"},"transform":[{"filter":"datum.k=='d1'"}],"mark":{"type":"point","shape":"M0,0L-0.5,1.4L0.5,1.4Z","filled":true,"color":"black","opacity":1,"size":90,"angle":212}},
{"data":{"name":"R"},"transform":[{"filter":"datum.k=='d2'"}],"mark":{"type":"point","shape":"M0,0L-0.5,1.4L0.5,1.4Z","filled":true,"color":"black","opacity":1,"size":90,"angle":199}},
{"data":{"name":"T"},"transform":[{"filter":"datum.p=='d' && datum.k=='L'"}],"mark":{"type":"text","align":"left","baseline":"middle","fontSize":18},"encoding":{"text":{"field":"t"}}},
{"data":{"name":"T"},"transform":[{"filter":"datum.p=='d' && datum.k=='N'"}],"mark":{"type":"text","align":"right","baseline":"middle","fontSize":16},"encoding":{"text":{"field":"t"}}},
{"data":{"name":"T"},"transform":[{"filter":"datum.p=='d' && datum.k=='A'"}],"mark":{"type":"text","align":"left","baseline":"middle","fontSize":10},"encoding":{"text":{"field":"t"}}}
]}
],"spacing":6}
],"spacing":19},
{"hconcat":[
{"width":42,"height":152,"data":{"values":[]},"mark":"point","view":{"stroke":null}},
{"width":152,"height":152,"data":{"name":"E"},
"encoding":{
"x":{"field":"x","type":"quantitative","scale":{"domain":[525,545],"nice":false,"zero":false},"axis":{"title":"Binding Energy (eV)","values":[525,527.5,530,532.5,535,537.5,540,542.5,545],"labelExpr":"datum.value % 5 == 0 ? datum.label : ''","tickSize":5,"labelPadding":6,"titleX":77,"titleY":46,"titleBaseline":"alphabetic","titleAlign":"center"}},
"y":{"field":"y","type":"quantitative","scale":{"domain":[0,456],"nice":false,"zero":false},"axis":{"title":"Intensity (a.u.)","labels":false,"ticks":false,"titleX":-19.3,"titleY":66,"titleAngle":270,"titleBaseline":"alphabetic","titleAlign":"center"}}},
"layer":[
{"transform":[{"filter":"datum.s=='b'"}],"mark":{"type":"line","color":"#3030a8","strokeWidth":1.2,"clip":true}},
{"transform":[{"filter":"datum.s=='d'"}],"mark":{"type":"line","color":"#c83ccc","strokeWidth":3,"clip":true}},
{"transform":[{"filter":"datum.s=='r'"}],"mark":{"type":"line","color":"#f5183c","strokeWidth":1.2,"clip":true}},
{"data":{"name":"T"},"transform":[{"filter":"datum.p=='e' && datum.k=='L'"}],"mark":{"type":"text","align":"left","baseline":"middle","fontSize":18},"encoding":{"text":{"field":"t"}}},
{"data":{"name":"T"},"transform":[{"filter":"datum.p=='e' && datum.k=='N'"}],"mark":{"type":"text","align":"right","baseline":"middle","fontSize":16},"encoding":{"text":{"field":"t"}}}
]}
],"spacing":10}
],
"spacing":16
}
